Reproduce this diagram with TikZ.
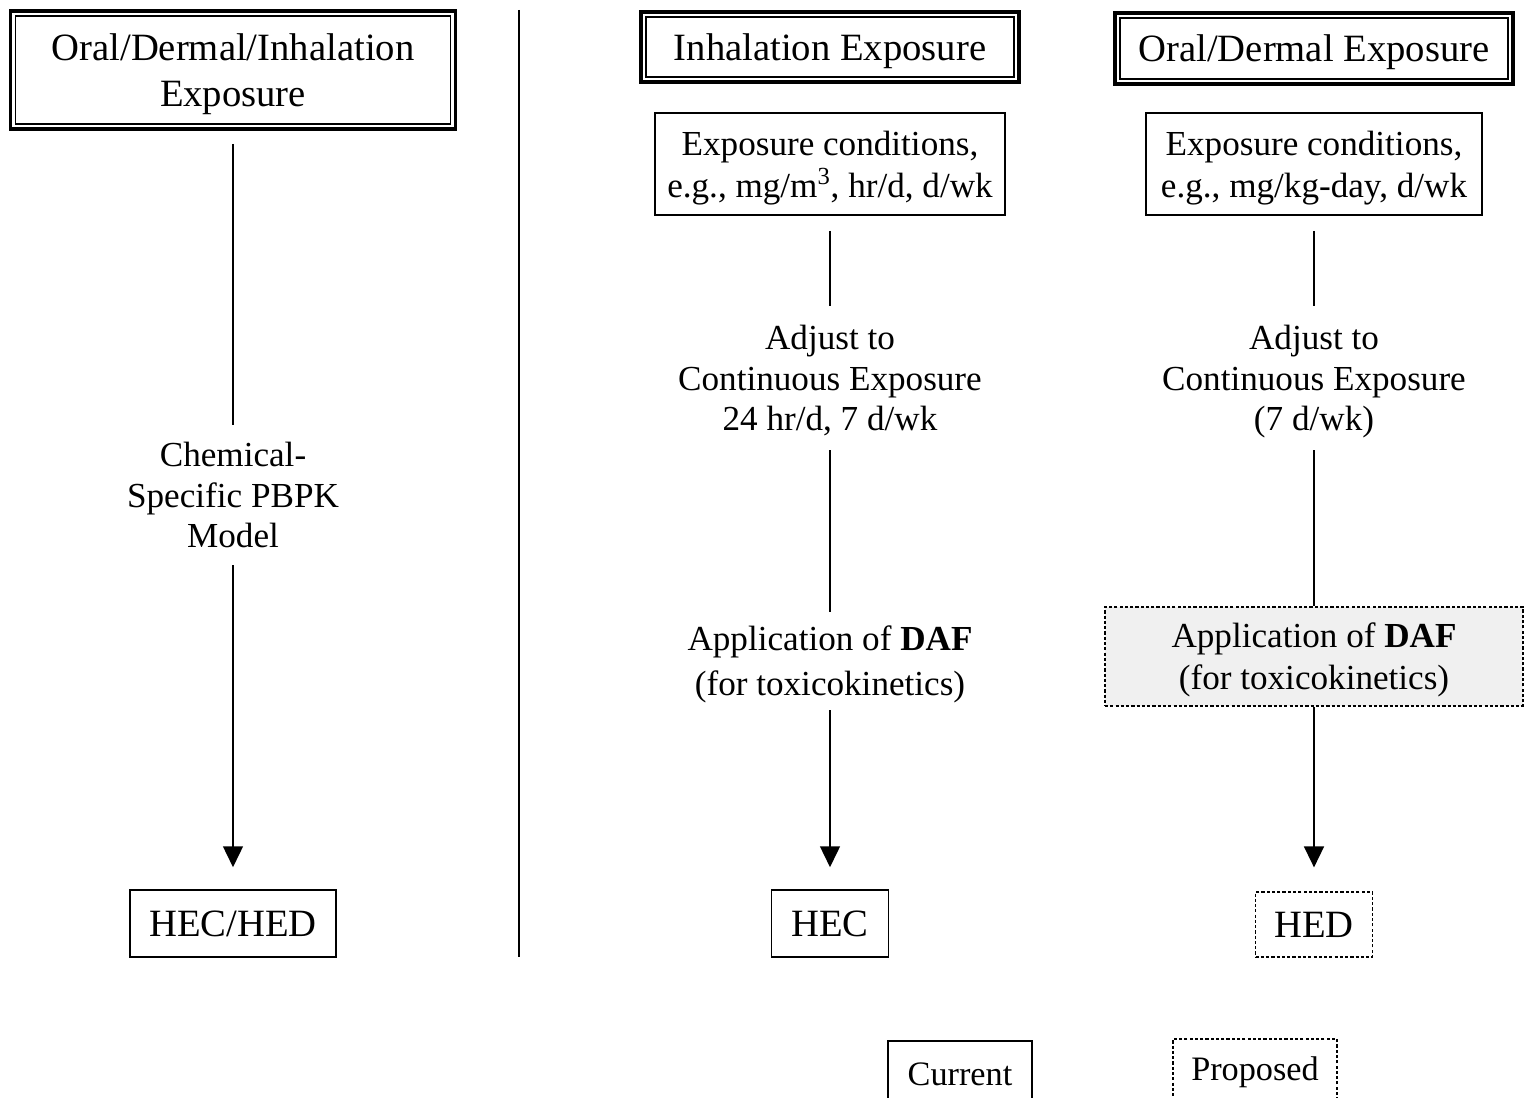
\documentclass[tikz,border=0pt]{standalone}
\usepackage{fontspec}
\setmainfont{Liberation Serif}
\usepackage{tikz}
\usetikzlibrary{arrows.meta}

\newcommand{\headsize}{\fontsize{22}{26.6}\selectfont}
\newcommand{\bodysize}{\fontsize{20}{23}\selectfont}
\newcommand{\keysize}{\fontsize{19.5}{22}\selectfont}

\tikzset{
    headbox/.style={draw, line width=0.9pt, fill=white, inner sep=0pt, align=center,
        font=\headsize, text depth=0pt,
        preaction={draw, line width=7.7pt},
        preaction={draw, white, line width=3.9pt}},
    plainbox/.style={draw, line width=0.9pt, inner sep=0pt, align=center, font=\bodysize, text depth=0pt},
    propbox/.style={draw, line width=0.7pt, dash pattern=on 1.8pt off 1.2pt,
        inner sep=0pt, align=center, font=\bodysize},
    keybox/.style={draw, line width=0.9pt, inner sep=0pt, font=\keysize},
    steptext/.style={inner sep=0pt, align=center, font=\bodysize, text depth=0pt},
    link/.style={line width=1pt},
    arrowlink/.style={link, -{Triangle[width=11.3pt,length=11.9pt]}}
}

\begin{document}
\begin{tikzpicture}[x=0.02cm, y=-0.02cm]
        \useasboundingbox (0,0) rectangle (1524,1098);
        \clip (0,0) rectangle (1524,1098);

        % headings
        \node[headbox, minimum width=8.7cm, minimum height=2.16cm] (t1) at (233, 70) {Oral/Dermal/Inhalation\\Exposure};
        \node[headbox, minimum width=7.36cm, minimum height=1.2cm] (t2) at (830, 47) {Inhalation Exposure};
        \node[headbox, minimum width=7.76cm, minimum height=1.22cm] (t3) at (1314, 48.5) {Oral/Dermal Exposure};

        % separator
        \draw[line width=0.9pt] (519, 10) -- (519, 957);

        % left column
        \node[steptext, minimum height=2.8cm] (chem) at (233, 495) {Chemical-\\Specific PBPK\\Model};
        \node[plainbox, font=\headsize, minimum width=4.12cm, minimum height=1.34cm] (r1) at (233, 923.5) {HEC/HED};

        % inhalation column
        \node[plainbox, font={\fontsize{20}{24}\selectfont}, minimum width=7cm, minimum height=2.04cm] (e2) at (830, 164) {Exposure conditions,\\e.g., mg/m\textsuperscript{3}, hr/d, d/wk};
        \node[steptext, minimum height=2.88cm] (adj2) at (830, 378) {Adjust to\\Continuous Exposure\\24 hr/d, 7 d/wk};
        \node[steptext, minimum height=1.96cm, font={\fontsize{20}{25.5}\selectfont}] (app2) at (830, 661) {Application of \textbf{DAF}\\(for toxicokinetics)};
        \node[plainbox, font=\headsize, minimum width=2.34cm, minimum height=1.34cm] (r2) at (830, 923.5) {HEC};

        % oral/dermal column
        \node[plainbox, font={\fontsize{20}{24}\selectfont}, minimum width=6.72cm, minimum height=2.04cm] (e3) at (1314, 164) {Exposure conditions,\\e.g., mg/kg-day, d/wk};
        \node[steptext, minimum height=2.88cm] (adj3) at (1314, 378) {Adjust to\\Continuous Exposure\\(7 d/wk)};
        \node[propbox, fill=black!6, text depth=0pt, minimum width=8.36cm, minimum height=1.98cm, font={\fontsize{20}{24}\selectfont}] (app3) at (1314, 656.5) {Application of \textbf{DAF}\\(for toxicokinetics)};
        \node[propbox, font=\headsize, minimum width=2.34cm, minimum height=1.3cm] (r3) at (1314, 924.5) {HED};

        % key
        \node[keybox, minimum width=2.88cm, minimum height=1.32cm] (cur) at (960, 1074) {Current};
        \node[propbox, font=\keysize, minimum width=3.28cm, minimum height=1.32cm] (prop) at (1255, 1072) {Proposed};

        % connectors
        \draw[link, shorten <=0.38cm] (t1) -- (chem);
        \draw[arrowlink, shorten >=0.44cm] (chem) -- (r1);
        \draw[link, shorten <=0.3cm] (e2) -- (adj2);
        \draw[link] (adj2) -- (app2);
        \draw[arrowlink, shorten >=0.44cm] (app2) -- (r2);
        \draw[link, shorten <=0.3cm] (e3) -- (adj3);
        \draw[link] (adj3) -- (app3);
        \draw[arrowlink, shorten >=0.48cm] (app3) -- (r3);
    \end{tikzpicture}
\end{document}
